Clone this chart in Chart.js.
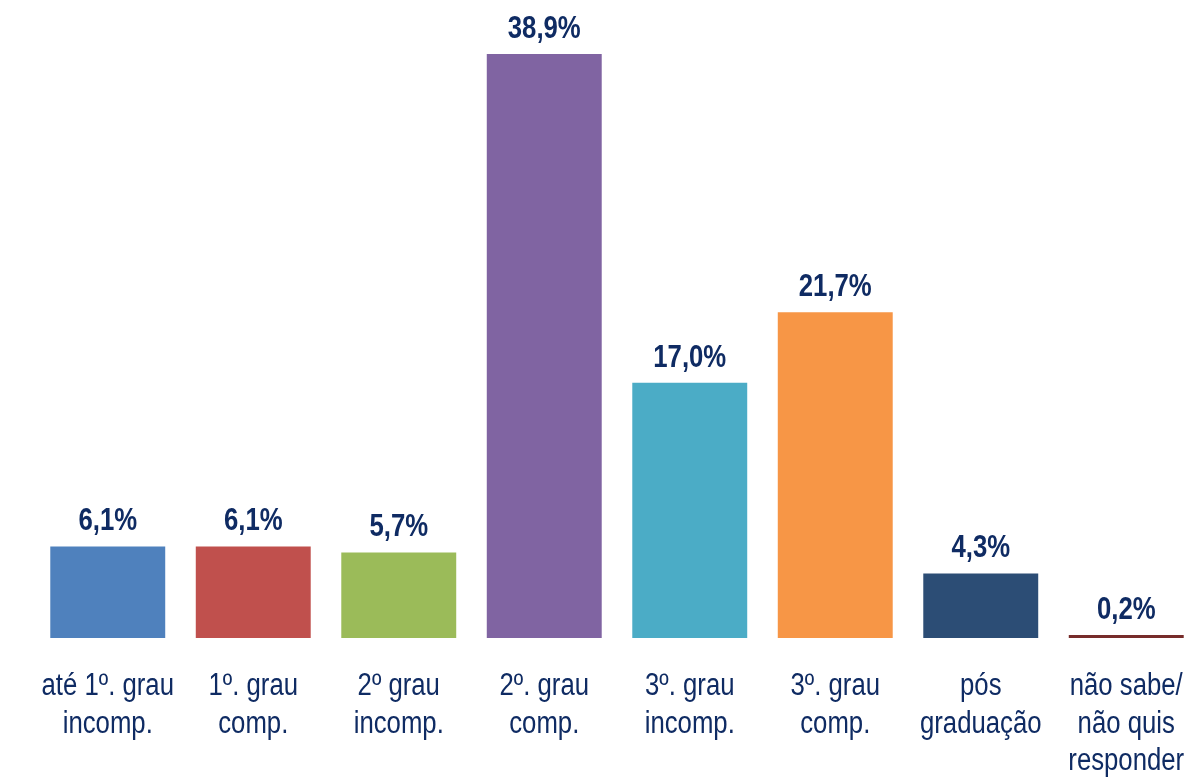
<!DOCTYPE html>
<html>
<head>
<meta charset="utf-8">
<script src="https://cdn.jsdelivr.net/npm/chart.js@4/dist/chart.umd.min.js"></script>
<style>
html,body{margin:0;padding:0;background:#fff;}
#wrap{width:1199px;height:777px;position:relative;}
</style>
</head>
<body>
<div id="wrap"><canvas id="c" width="1199" height="777"></canvas></div>
<script>
const categories = [
  ["até 1º. grau", "incomp."],
  ["1º. grau", "comp."],
  ["2º grau", "incomp."],
  ["2º. grau", "comp."],
  ["3º. grau", "incomp."],
  ["3º. grau", "comp."],
  ["pós", "graduação"],
  ["não sabe/", "não quis", "responder"]
];
const values = [6.1, 6.1, 5.7, 38.9, 17.0, 21.7, 4.3, 0.2];
const valueLabels = ["6,1%", "6,1%", "5,7%", "38,9%", "17,0%", "21,7%", "4,3%", "0,2%"];
const barColors = ["#4F81BD", "#C0504D", "#9BBB59", "#8064A2", "#4BACC6", "#F79646", "#2C4D75", "#772C2A"];

const FONT = "'Liberation Sans', Arial, sans-serif";
const TEXT = "#0F2B63";
const SQUEEZE = 0.83;

// draws text horizontally condensed (like Arial Narrow)
function narrowText(ctx, text, x, y) {
  ctx.save();
  ctx.translate(x, y);
  ctx.scale(SQUEEZE, 1);
  ctx.fillText(text, 0, 0);
  ctx.restore();
}

const labelPlugin = {
  id: 'labels',
  afterDatasetsDraw(chart) {
    const ctx = chart.ctx;
    const meta = chart.getDatasetMeta(0);
    const xScale = chart.scales.x;
    ctx.save();
    ctx.fillStyle = TEXT;
    ctx.textAlign = 'center';
    ctx.textBaseline = 'alphabetic';
    // value labels above bars
    ctx.font = "bold 31px " + FONT;
    meta.data.forEach((bar, i) => {
      narrowText(ctx, valueLabels[i], bar.x, bar.y - 16);
    });
    // category labels under the axis
    ctx.font = "31px " + FONT;
    categories.forEach((lines, i) => {
      const x = xScale.getPixelForValue(i);
      lines.forEach((line, j) => {
        narrowText(ctx, line, x, chart.chartArea.bottom + 57 + j * 37.5);
      });
    });
    ctx.restore();
  }
};

new Chart(document.getElementById('c'), {
  type: 'bar',
  data: {
    labels: categories,
    datasets: [{
      data: values,
      backgroundColor: barColors,
      borderWidth: 0,
      categoryPercentage: 1,
      barPercentage: 0.79
    }]
  },
  options: {
    responsive: false,
    animation: false,
    devicePixelRatio: 1,
    layout: { padding: { left: 35, right: 0, top: 0, bottom: 139 } },
    plugins: { legend: { display: false }, tooltip: { enabled: false } },
    scales: {
      y: { display: false, min: 0, max: 42.5 },
      x: {
        display: true,
        grid: { display: false, drawTicks: false },
        border: { display: false },
        ticks: { display: false }
      }
    }
  },
  plugins: [labelPlugin]
});
</script>
</body>
</html>
